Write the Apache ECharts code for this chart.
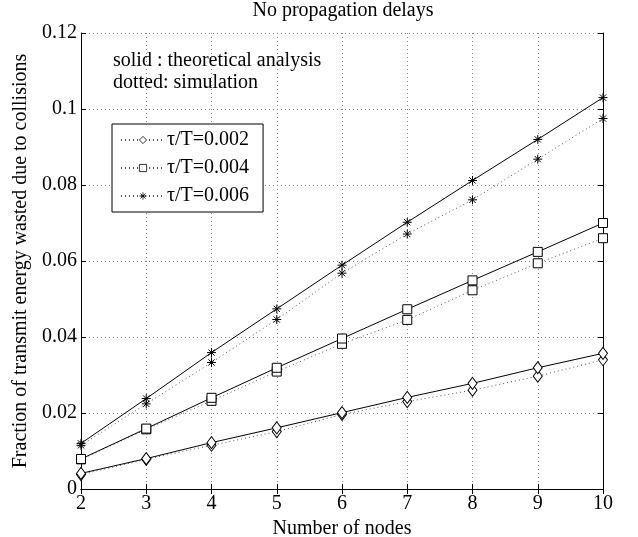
<!DOCTYPE html>
<html>
<head>
<meta charset="utf-8">
<script src="https://cdn.jsdelivr.net/npm/echarts@6/dist/echarts.min.js"></script>
<style>
  html, body { margin: 0; padding: 0; background: #fff; }
  #chart { width: 638px; height: 537px; }
</style>
</head>
<body>
<div id="chart"></div>
<script>
// data
var nodes = [2, 3, 4, 5, 6, 7, 8, 9, 10];
var theory002 = [0.0041, 0.0080, 0.0122, 0.0161, 0.0201, 0.0241, 0.0278, 0.0319, 0.0357];
var sim002    = [0.0038, 0.0078, 0.0115, 0.0151, 0.0196, 0.0230, 0.0260, 0.0297, 0.0340];
var theory004 = [0.0079, 0.0159, 0.0240, 0.0319, 0.0396, 0.0473, 0.0549, 0.0624, 0.0700];
var sim004    = [0.0078, 0.0157, 0.0232, 0.0309, 0.0382, 0.0445, 0.0523, 0.0594, 0.0660];
var theory006 = [0.0120, 0.0238, 0.0359, 0.0474, 0.0589, 0.0702, 0.0812, 0.0920, 0.1030];
var sim006    = [0.0115, 0.0224, 0.0333, 0.0446, 0.0568, 0.0671, 0.0761, 0.0868, 0.0975];
var legendNames = ['τ/T=0.002', 'τ/T=0.004', 'τ/T=0.006'];

var serif = '"Liberation Serif", "DejaVu Serif", serif';
var star = 'path://M0,-1L0,1M-1,0L1,0M-0.7,-0.7L0.7,0.7M-0.7,0.7L0.7,-0.7';

function pairs(y) {
    var out = [];
    for (var i = 0; i < nodes.length; i++) out.push([nodes[i], y[i]]);
    return out;
}

function mkSeries(name, y, symbol, size, dotted) {
    return {
        name: name,
        type: 'line',
        data: pairs(y),
        symbol: symbol,
        symbolSize: size,
        showAllSymbol: true,
        silent: true,
        lineStyle: {
            color: dotted ? '#555' : '#000',
            width: 1,
            type: dotted ? [1, 3] : 'solid'
        },
        itemStyle: {
            color: '#fff',
            borderColor: '#000',
            borderWidth: 1
        },
        z: dotted ? 3 : 4
    };
}

var chart = echarts.init(document.getElementById('chart'));

var axisCommon = {
    type: 'value',
    axisLine: { show: true, lineStyle: { color: '#000', width: 1 } },
    axisTick: { show: true, inside: true, length: 5, lineStyle: { color: '#000' } }
};

chart.setOption({
    animation: false,
    backgroundColor: '#fff',
    title: {
        text: 'No propagation delays',
        left: 343,
        top: 1,
        padding: 0,
        textAlign: 'center',
        textStyle: { fontFamily: serif, fontSize: 20, fontWeight: 'normal', color: '#000' }
    },
    grid: { left: 81, right: 35, top: 33, bottom: 48, outerBoundsMode: 'none', containLabel: false },
    legend: {
        data: legendNames,
        orient: 'vertical',
        left: 112,
        top: 124,
        padding: [6, 14, 6, 8],
        itemGap: 8,
        itemWidth: 44,
        itemHeight: 9,
        borderColor: '#000',
        borderWidth: 1,
        backgroundColor: '#fff',
        selectedMode: false,
        itemStyle: { borderWidth: 0.8 },
        textStyle: { fontFamily: serif, fontSize: 20, color: '#000', padding: [0, 0, 0, -3] }
    },
    xAxis: [
        Object.assign({}, axisCommon, {
            min: 2, max: 10, interval: 1,
            name: 'Number of nodes',
            nameLocation: 'middle',
            nameGap: 18,
            nameTextStyle: { fontFamily: serif, fontSize: 20, color: '#000' },
            axisLabel: { fontFamily: serif, fontSize: 20, color: '#000', margin: 5 },
            splitLine: { show: true, lineStyle: { color: '#888', type: [1, 3], width: 1 } }
        }),
        Object.assign({}, axisCommon, {
            min: 2, max: 10, interval: 1, position: 'top',
            axisLabel: { show: false },
            splitLine: { show: false }
        })
    ],
    yAxis: [
        Object.assign({}, axisCommon, {
            min: 0, max: 0.12, interval: 0.02,
            name: 'Fraction of transmit energy wasted due to collisions',
            nameLocation: 'middle',
            nameGap: 40,
            nameTextStyle: { fontFamily: serif, fontSize: 20, color: '#000' },
            axisLabel: { fontFamily: serif, fontSize: 20, color: '#000', margin: 4 },
            splitLine: { show: true, lineStyle: { color: '#888', type: [1, 3], width: 1 } }
        }),
        Object.assign({}, axisCommon, {
            min: 0, max: 0.12, interval: 0.02, position: 'right',
            axisLabel: { show: false },
            splitLine: { show: false }
        })
    ],
    graphic: [
        {
            type: 'text', left: 113, top: 51,
            style: { text: 'solid : theoretical analysis', font: '20px ' + serif, fill: '#000' }
        },
        {
            type: 'text', left: 113, top: 73,
            style: { text: 'dotted: simulation', font: '20px ' + serif, fill: '#000' }
        }
    ],
    series: [
        mkSeries('theory 0.002', theory002, 'diamond', [9, 12], false),
        mkSeries(legendNames[0], sim002, 'diamond', [9, 12], true),
        mkSeries('theory 0.004', theory004, 'rect', 9, false),
        mkSeries(legendNames[1], sim004, 'rect', 9, true),
        mkSeries('theory 0.006', theory006, star, 9, false),
        mkSeries(legendNames[2], sim006, star, 9, true)
    ]
});
</script>
</body>
</html>
